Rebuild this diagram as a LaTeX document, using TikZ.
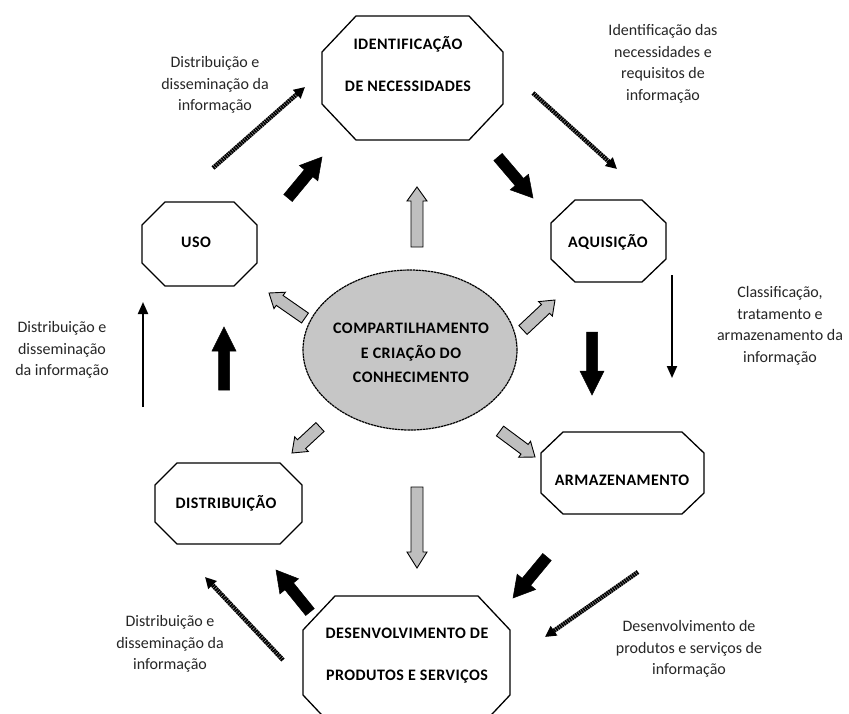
\documentclass[tikz,border=0pt]{standalone}
\usepackage{fontspec}
\setmainfont{Carlito}
\newfontfamily\spacedfont[LetterSpace=3]{Carlito}
\usetikzlibrary{calc,shapes.geometric,arrows.meta}
% octagon: x1 y1 x2 y2 cutx cuty
\newcommand\octshape[6]{\draw[octline] (#1+#5,#2) -- (#3-#5,#2) -- (#3,#2+#6) -- (#3,#4-#6) -- (#3-#5,#4) -- (#1+#5,#4) -- (#1,#4-#6) -- (#1,#2+#6) -- cycle;}
% block arrow: style, from, to, shaft half width, head half width, head length
\newcommand\blkarrow[6]{%
  \coordinate (bh) at ($(#3)!#6!(#2)$);
  \draw[#1] ($(#2)!#4!90:(#3)$) -- ($(bh)!#4!90:(#3)$) -- ($(bh)!#5!90:(#3)$) -- (#3) -- ($(bh)!#5!-90:(#3)$) -- ($(bh)!#4!-90:(#3)$) -- ($(#2)!#4!-90:(#3)$) -- cycle;}
\tikzset{
  octline/.style={draw=black, line width=1.3pt, line join=miter},
  grayarr/.style={fill=gray!50, draw=black, line width=0.9pt, line join=miter},
  blackarr/.style={fill=black, draw=black, line width=0.5pt, line join=miter},
  thinarr/.style={line width=2pt, -{Triangle[length=12pt,width=10pt]}},
  dotarr/.style={line width=4.5pt, dash pattern=on 1.8pt off 0.6pt, -{Triangle[length=11pt,width=11pt]}},
  lbl/.style={font=\fontsize{16}{21.5}\selectfont, align=center, text=black!85, inner sep=0pt},
  boxtxt/.style={font=\spacedfont\bfseries\fontsize{16}{18}\selectfont, align=center, inner sep=0pt},
}
\begin{document}
\begin{tikzpicture}[x=1pt,y=-1pt]
\useasboundingbox (0,0) rectangle (849,713);
\clip (0,0) rectangle (849,713);
\fill[white] (0,0) rectangle (849,713);

% octagons
\octshape{322}{16}{503}{140}{34}{36}
\octshape{551}{200}{666}{282}{24}{23}
\octshape{142}{202}{257}{286}{23}{23}
\octshape{541}{432}{704}{514}{22}{21}
\octshape{155}{463}{302}{544}{22}{22}
\octshape{303}{596}{510}{729}{32}{34}

% central ellipse
\node[ellipse, draw=black, fill=gray!45, line width=1.2pt, dash pattern=on 2.5pt off 0.6pt,
      minimum width=214pt, minimum height=160pt, inner sep=0pt] (core) at (410,350) {};
\node[boxtxt, font=\spacedfont\bfseries\fontsize{16}{24.5}\selectfont] (coretext) at (411,353)
  {COMPARTILHAMENTO\\E CRIAÇÃO DO\\CONHECIMENTO};

% box texts
\node[boxtxt] (ident) at (408,64) {IDENTIFICAÇÃO\\[24pt]DE NECESSIDADES};
\node[boxtxt] (aquis) at (608,242) {AQUISIÇÃO};
\node[boxtxt] (uso) at (196,242) {USO};
\node[boxtxt] (armaz) at (622,480) {ARMAZENAMENTO};
\node[boxtxt] (distr) at (226,503) {DISTRIBUIÇÃO};
\node[boxtxt] (desenv) at (407,656) {DESENVOLVIMENTO DE\\[24pt]PRODUTOS E SERVIÇOS};

% labels
\node[lbl] (l1) at (215,85) {Distribuição e\\disseminação da\\informação};
\node[lbl] (l2) at (663,64) {Identificação das\\necessidades e\\requisitos de\\informação};
\node[lbl] (l3) at (780,326) {Classificação,\\tratamento e\\armazenamento da\\informação};
\node[lbl] (l4) at (62,350) {Distribuição e\\disseminação\\da informação};
\node[lbl] (l5) at (170,644) {Distribuição e\\disseminação da\\informação};
\node[lbl] (l6) at (689,649) {Desenvolvimento de\\produtos e serviços de\\informação};

% arrow end coordinates
\coordinate (g1s) at (417,247); \coordinate (g1e) at (417,187);
\coordinate (g2s) at (305,318); \coordinate (g2e) at (269,293);
\coordinate (g3s) at (523,330); \coordinate (g3e) at (555,300);
\coordinate (g4s) at (320,427); \coordinate (g4e) at (292,453);
\coordinate (g5s) at (500,431); \coordinate (g5e) at (535,457);
\coordinate (g6s) at (417,487); \coordinate (g6e) at (417,568);

\coordinate (b1s) at (288,198); \coordinate (b1e) at (322,157);
\coordinate (b2s) at (498,157); \coordinate (b2e) at (533,198);
\coordinate (b3s) at (592,332); \coordinate (b3e) at (592,395);
\coordinate (b4s) at (547,557); \coordinate (b4e) at (513,598);
\coordinate (b5s) at (310,612); \coordinate (b5e) at (276,570);
\coordinate (b6s) at (224,390); \coordinate (b6e) at (224,327);

\coordinate (t1s) at (672,275); \coordinate (t1e) at (672,378);
\coordinate (t2s) at (143,407); \coordinate (t2e) at (143,302);

\coordinate (d1s) at (213,168); \coordinate (d1e) at (305,87);
\coordinate (d2s) at (533,93);  \coordinate (d2e) at (617,169);
\coordinate (d3s) at (638,572); \coordinate (d3e) at (545,637);
\coordinate (d4s) at (283,660); \coordinate (d4e) at (205,577);

% gray arrows
\blkarrow{grayarr}{g1s}{g1e}{6pt}{10pt}{14pt}
\blkarrow{grayarr}{g2s}{g2e}{6pt}{10pt}{13pt}
\blkarrow{grayarr}{g3s}{g3e}{6pt}{10pt}{13pt}
\blkarrow{grayarr}{g4s}{g4e}{6pt}{10pt}{13pt}
\blkarrow{grayarr}{g5s}{g5e}{6pt}{10pt}{13pt}
\blkarrow{grayarr}{g6s}{g6e}{6pt}{10pt}{16pt}

% black arrows
\blkarrow{blackarr}{b1s}{b1e}{5.5pt}{12pt}{21pt}
\blkarrow{blackarr}{b2s}{b2e}{5.5pt}{12pt}{21pt}
\blkarrow{blackarr}{b3s}{b3e}{5.5pt}{12pt}{24pt}
\blkarrow{blackarr}{b4s}{b4e}{5.5pt}{12pt}{21pt}
\blkarrow{blackarr}{b5s}{b5e}{5.5pt}{12pt}{21pt}
\blkarrow{blackarr}{b6s}{b6e}{5.5pt}{12pt}{24pt}

% thin arrows
\draw[thinarr] (t1s) -- (t1e);
\draw[thinarr] (t2s) -- (t2e);

% dotted arrows
\draw[dotarr] (d1s) -- (d1e);
\draw[dotarr] (d2s) -- (d2e);
\draw[dotarr] (d3s) -- (d3e);
\draw[dotarr] (d4s) -- (d4e);
\end{tikzpicture}
\end{document}
